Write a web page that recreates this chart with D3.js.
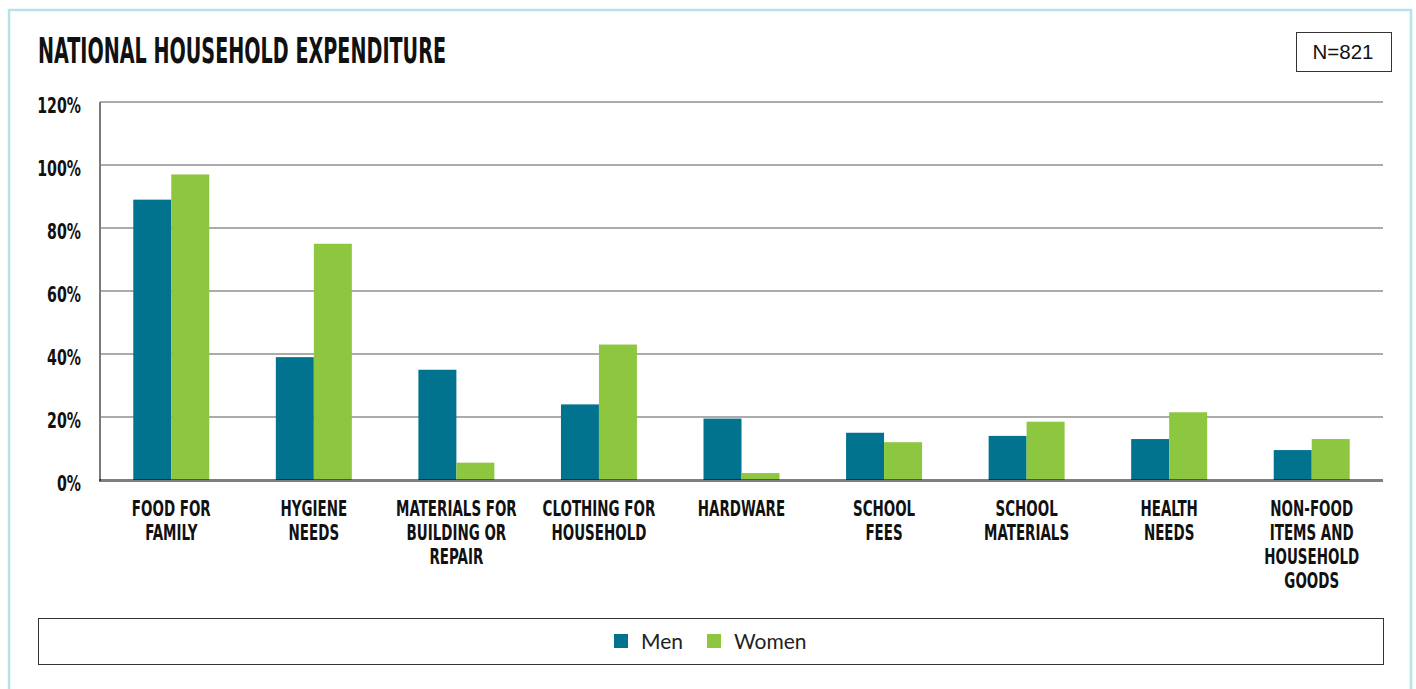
<!DOCTYPE html>
<html><head><meta charset="utf-8">
<script src="https://cdn.jsdelivr.net/npm/d3@7"></script>
<style>
html,body{margin:0;padding:0;background:#fff;}
svg{display:block;}
</style></head>
<body>
<svg id="chart" width="1416" height="689"></svg>
<script>
const categories = [
  ["FOOD FOR","FAMILY"],
  ["HYGIENE","NEEDS"],
  ["MATERIALS FOR","BUILDING OR","REPAIR"],
  ["CLOTHING FOR","HOUSEHOLD"],
  ["HARDWARE"],
  ["SCHOOL","FEES"],
  ["SCHOOL","MATERIALS"],
  ["HEALTH","NEEDS"],
  ["NON-FOOD","ITEMS AND","HOUSEHOLD","GOODS"]
];
const seriesNames = ["Men","Women"];
const menValues   = [89, 39, 35, 24, 19.5, 15, 14, 13, 9.5];
const womenValues = [97, 75, 5.5, 43, 2.2, 12, 18.5, 21.5, 13];
const yTicks = [0, 20, 40, 60, 80, 100, 120];
const colors = ["#02738f", "#8dc63f"];

(function(){
const svg = d3.select("#chart");
const condensed = "'Liberation Sans Narrow','DejaVu Sans Condensed','Arial Narrow',sans-serif";

// frame
svg.append("path").attr("d","M9,700 V10 H1411 V700")
  .attr("fill","none").attr("stroke","#b8e2e9").attr("stroke-width",2.5);

// title
svg.append("text").attr("x",38).attr("y",63)
  .attr("font-family",condensed).attr("font-weight","bold").attr("font-size",35)
  .attr("textLength",408).attr("lengthAdjust","spacingAndGlyphs")
  .attr("fill","#111").text("NATIONAL HOUSEHOLD EXPENDITURE");

// N box
svg.append("rect").attr("x",1296.5).attr("y",32.5).attr("width",95).attr("height",39)
  .attr("fill","#fff").attr("stroke","#333").attr("stroke-width",1);
svg.append("text").attr("x",1343).attr("y",59).attr("text-anchor","middle")
  .attr("font-family","'Liberation Sans',Arial,sans-serif").attr("font-size",20.5)
  .attr("fill","#111").text("N=821");

const pLeft = 100, pRight = 1383, pTop = 102, pBottom = 480;
const x = d3.scaleBand().domain(d3.range(categories.length)).range([pLeft,pRight])
  .paddingInner(0.467).paddingOuter(0.2335);
const x1 = d3.scaleBand().domain(seriesNames).range([0,x.bandwidth()]);
const y = d3.scaleLinear().domain([0,120]).range([pBottom,pTop]);

// gridlines
svg.append("g").selectAll("line").data(yTicks.filter(d=>d>0)).join("line")
  .attr("x1",pLeft).attr("x2",pRight).attr("y1",d=>y(d)).attr("y2",d=>y(d))
  .attr("stroke","#8f8f8f").attr("stroke-width",1.3);

// y axis line
svg.append("line").attr("x1",pLeft).attr("x2",pLeft).attr("y1",pTop).attr("y2",pBottom+1)
  .attr("stroke","#7a7a7a").attr("stroke-width",2);

// y tick labels
svg.append("g").selectAll("g").data(yTicks).join("g")
  .attr("transform",d=>`translate(81,${y(d)+11}) scale(0.75,1)`)
  .append("text").attr("x",0).attr("y",0).attr("text-anchor","end")
  .attr("font-family",condensed).attr("font-weight","bold").attr("font-size",21)
  .attr("fill","#111").text(d=>d+"%");

// bars
const data = categories.map((c,i)=>({i, vals:[menValues[i],womenValues[i]]}));
const groups = svg.append("g").selectAll("g").data(data).join("g")
  .attr("transform",d=>`translate(${x(d.i)},0)`);
groups.selectAll("rect").data(d=>d.vals.map((v,k)=>({k,v}))).join("rect")
  .attr("x",d=>x1(seriesNames[d.k])).attr("width",x1.bandwidth())
  .attr("y",d=>y(d.v)).attr("height",d=>y(0)-y(d.v))
  .attr("fill",d=>colors[d.k]);

// x axis line (semi-transparent, overlapping bars)
svg.append("line").attr("x1",pLeft-1).attr("x2",pRight).attr("y1",pBottom+0.5).attr("y2",pBottom+0.5)
  .attr("stroke","rgba(0,0,0,0.5)").attr("stroke-width",3);

// x labels
const lab = svg.append("g").selectAll("g").data(categories).join("g")
  .attr("transform",(d,i)=>`translate(${x(i)+x.bandwidth()/2},0) scale(0.68,1)`);
lab.each(function(lines){
  d3.select(this).selectAll("text").data(lines).join("text")
    .attr("x",0).attr("y",(l,j)=>516+j*24).attr("text-anchor","middle")
    .attr("font-family",condensed).attr("font-weight","bold").attr("font-size",22)
    .attr("fill","#111").text(l=>l);
});

// legend
svg.append("rect").attr("x",38.5).attr("y",618.5).attr("width",1345).attr("height",46)
  .attr("fill","#fff").attr("stroke","#333").attr("stroke-width",1);
const legX = [614, 707];
const leg = svg.append("g").selectAll("g").data(seriesNames).join("g")
  .attr("transform",(d,i)=>`translate(${legX[i]},634)`);
leg.append("rect").attr("width",14).attr("height",14).attr("fill",(d,i)=>colors[i]);
leg.append("text").attr("x",27).attr("y",15).attr("font-family","Lato,'Noto Sans',sans-serif")
  .attr("font-size",21).attr("fill","#222").text(d=>d);
})();
</script>
</body></html>
